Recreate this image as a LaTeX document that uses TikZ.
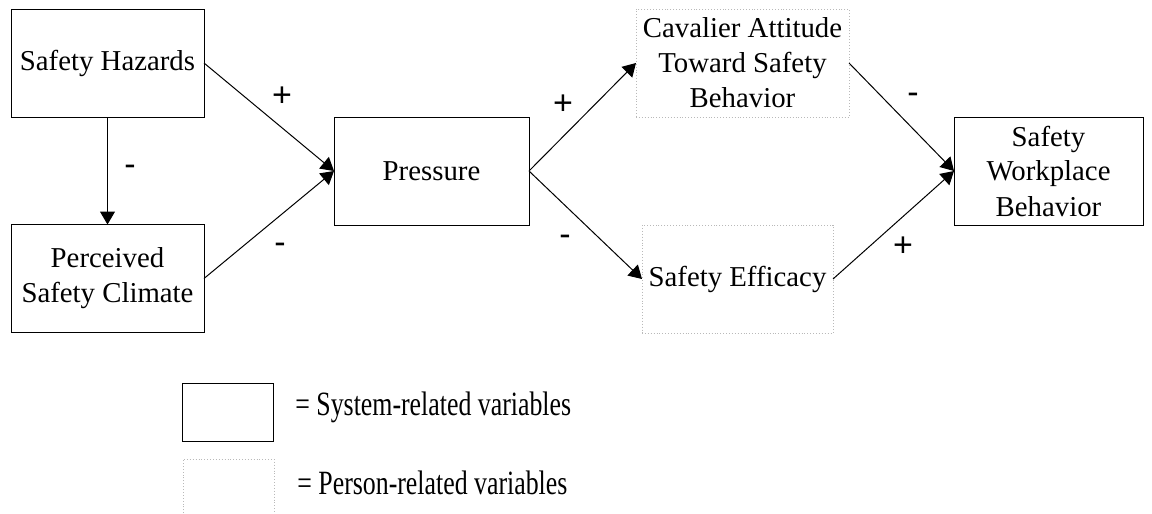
\documentclass[tikz,border=0pt]{standalone}
\usepackage{fontspec}
\setmainfont{Liberation Serif}
\newfontfamily\labfont{Liberation Sans}
\usetikzlibrary{arrows.meta}
\newcommand{\legscale}[1]{\scalebox{0.76}[1]{#1}}
\begin{document}
\begin{tikzpicture}[x=0.5pt,y=-0.5pt,
  sysbox/.style={draw, line width=0.5pt, rectangle, inner sep=0pt, outer sep=0pt, align=center,
    minimum height=54pt, font=\fontsize{14.4}{17.5}\selectfont},
  perbox/.style={draw=gray!55, densely dotted, line width=0.45pt, rectangle, inner sep=0pt, outer sep=0pt, align=center,
    minimum height=54pt, font=\fontsize{14.4}{17.5}\selectfont},
  conn/.style={-{Triangle[length=6.5pt,width=7.5pt]}, line width=0.5pt},
  sign/.style={font=\labfont\fontsize{17}{17}\selectfont, inner sep=0pt},
  legtext/.style={anchor=west, inner sep=0pt, font=\fontsize{17}{20}\selectfont}]
\useasboundingbox (0,0) rectangle (1152,514);
\fill[white] (0,0) rectangle (1152,514);

\node[sysbox, minimum width=96.5pt] (sh) at (107.5,63) {Safety Hazards};
\node[sysbox, minimum width=96.5pt] (psc) at (107.5,278.5) {Perceived\\Safety Climate};
\node[sysbox, minimum width=97.5pt] (pr) at (431.5,171) {Pressure};
\node[perbox, minimum width=106.5pt] (cav) at (742.5,63) {Cavalier Attitude\\Toward Safety\\Behavior};
\node[perbox, minimum width=95.5pt] (eff) at (737.5,279) {Safety Efficacy};
\node[sysbox, minimum width=94.5pt] (swb) at (1048.5,171) {Safety\\Workplace\\Behavior};

\draw[conn] (sh.south) -- (psc.north);
\draw[conn] (sh.east) -- (pr.west);
\draw[conn] (psc.east) -- (pr.west);
\draw[conn] (pr.east) -- (cav.west);
\draw[conn] (pr.east) -- (eff.west);
\draw[conn] (cav.east) -- (swb.west);
\draw[conn] (eff.east) -- (swb.west);

\node[sign] (s1) at (282,97) {+};
\node[sign] (s2) at (130,170) {-};
\node[sign] (s3) at (280,248) {-};
\node[sign] (s4) at (563,105) {+};
\node[sign] (s5) at (565,240) {-};
\node[sign] (s6) at (913,98) {-};
\node[sign] (s7) at (903,247) {+};

\node[sysbox, minimum width=45.5pt, minimum height=29pt] (leg1) at (227.5,412) {};
\node[legtext] (legt1) at (295,407) {\legscale{= System-related variables}};
\coordinate (l2a) at (183,516);
\coordinate (l2b) at (183,459);
\coordinate (l2c) at (274,459);
\coordinate (l2d) at (274,516);
\draw[draw=gray!55, densely dotted, line width=0.45pt] (l2a) -- (l2b) -- (l2c) -- (l2d);
\node[legtext] (legt2) at (297,483) {\legscale{= Person-related variables}};
\end{tikzpicture}
\end{document}
